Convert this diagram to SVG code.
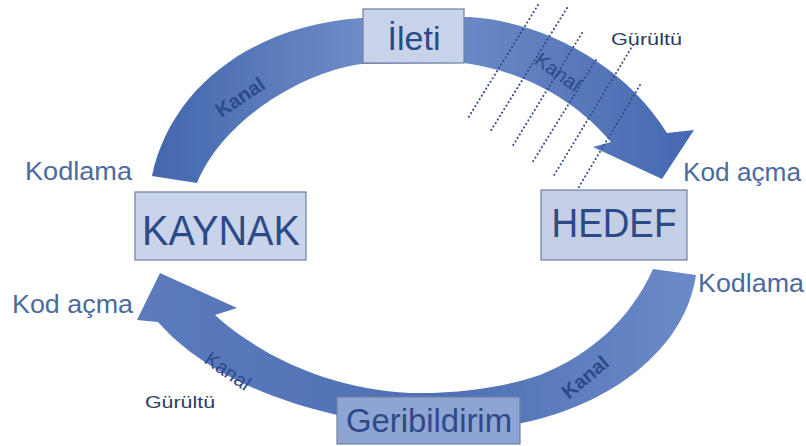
<svg xmlns="http://www.w3.org/2000/svg" width="806" height="446" viewBox="0 0 806 446">
<defs>
<linearGradient id="gTop" gradientUnits="userSpaceOnUse" x1="150" y1="0" x2="700" y2="0">
<stop offset="0" stop-color="#4266ad"/>
<stop offset="0.45" stop-color="#7592cb"/>
<stop offset="1" stop-color="#4467b0"/>
</linearGradient>
<linearGradient id="gBot" gradientUnits="userSpaceOnUse" x1="130" y1="0" x2="700" y2="0">
<stop offset="0" stop-color="#5b7bbd"/>
<stop offset="0.55" stop-color="#4e70b5"/>
<stop offset="1" stop-color="#6c8bc8"/>
</linearGradient>
<filter id="soft" x="-5%" y="-5%" width="110%" height="110%">
<feGaussianBlur stdDeviation="0.6"/>
</filter>
</defs>
<style>
.box{stroke:#6f80a2;stroke-width:1.2}
.boxtxt{font-family:"Liberation Sans",Arial,sans-serif;fill:#2d4a88;text-anchor:middle}
.lbl{font-family:"Liberation Sans",Arial,sans-serif;fill:#4b6a9e;font-size:26px}
.noise{font-family:"Liberation Sans",Arial,sans-serif;fill:#2c3d60;font-size:17px}
.kanal{font-family:"Liberation Sans",Arial,sans-serif;fill:#2d4a8a;font-size:20px;text-anchor:middle}
.dots{stroke:#2e4a8a;stroke-width:2;stroke-dasharray:0.1 4;stroke-linecap:round;fill:none}
</style>
<rect width="806" height="446" fill="#ffffff"/>
<g id="connectors">
<path id="arrow-top" filter="url(#soft)" fill="url(#gTop)" d="M152,176 C170,90 250,25 362,18 L470,17 C545,22 625,65 667,133 L694,130 L662,179 L593,147 L611,142 C580,105 530,72 464,63 L362,64 C310,70 225,115 197,183 Z"/>
<path id="arrow-bottom" filter="url(#soft)" fill="url(#gBot)" d="M653,269 L696,275 C685,350 610,405 522,423 L420,440 L337,415 C270,400 200,370 158,322 L137,320 L160,273 L237,308 L215,315 C270,365 350,393 420,393 C470,393 510,385 540,375 C590,355 630,320 653,269 Z"/>
</g>
<g id="noise-lines">
<line class="dots" x1="538" y1="5" x2="468" y2="118"/>
<line class="dots" x1="567" y1="8" x2="490" y2="132"/>
<line class="dots" x1="582" y1="33" x2="512" y2="147"/>
<line class="dots" x1="596" y1="60" x2="532" y2="163"/>
<line class="dots" x1="633" y1="45" x2="553" y2="177"/>
<line class="dots" x1="640" y1="85" x2="577" y2="190"/>
</g>
<g id="kanal-labels">
<text class="kanal" transform="translate(240,97) rotate(-34)" x="0" y="7" font-weight="bold" font-size="21">Kanal</text>
<text class="kanal" transform="translate(558,72) rotate(36)" x="0" y="7">Kanal</text>
<text class="kanal" transform="translate(228,371) rotate(35)" x="0" y="7">Kanal</text>
<text class="kanal" transform="translate(585,377) rotate(-40)" x="0" y="7" font-weight="bold" font-size="19">Kanal</text>
</g>
<g id="ileti">
<rect class="box" x="363" y="9" width="101" height="54" fill="#c8d3ea"/>
<text class="boxtxt" x="414" y="50" font-size="34">İleti</text>
</g>
<g id="kaynak">
<rect class="box" x="135" y="192" width="171" height="68" fill="#c9d3e9"/>
<text class="boxtxt" x="221" y="245" font-size="42" textLength="158" lengthAdjust="spacingAndGlyphs">KAYNAK</text>
</g>
<g id="hedef">
<rect class="box" x="541" y="190" width="146" height="70" fill="#c4cfe6"/>
<text class="boxtxt" x="614" y="237" font-size="40" textLength="125" lengthAdjust="spacingAndGlyphs">HEDEF</text>
</g>
<g id="geribildirim">
<rect class="box" x="337" y="397" width="183" height="47" fill="#8ea5d4" stroke="#6e84b6"/>
<text class="boxtxt" x="429" y="432" font-size="33" textLength="166" lengthAdjust="spacingAndGlyphs">Geribildirim</text>
</g>
<g id="labels">
<text class="lbl" x="25" y="180" textLength="107" lengthAdjust="spacingAndGlyphs">Kodlama</text>
<text class="lbl" x="683" y="181" textLength="118" lengthAdjust="spacingAndGlyphs">Kod açma</text>
<text class="lbl" x="698" y="292" textLength="106" lengthAdjust="spacingAndGlyphs">Kodlama</text>
<text class="lbl" x="12" y="313" font-size="27" textLength="121" lengthAdjust="spacingAndGlyphs">Kod açma</text>
<text class="noise" x="611" y="45" textLength="71" lengthAdjust="spacingAndGlyphs">Gürültü</text>
<text class="noise" x="145" y="408" textLength="70" lengthAdjust="spacingAndGlyphs">Gürültü</text>
</g>
</svg>
